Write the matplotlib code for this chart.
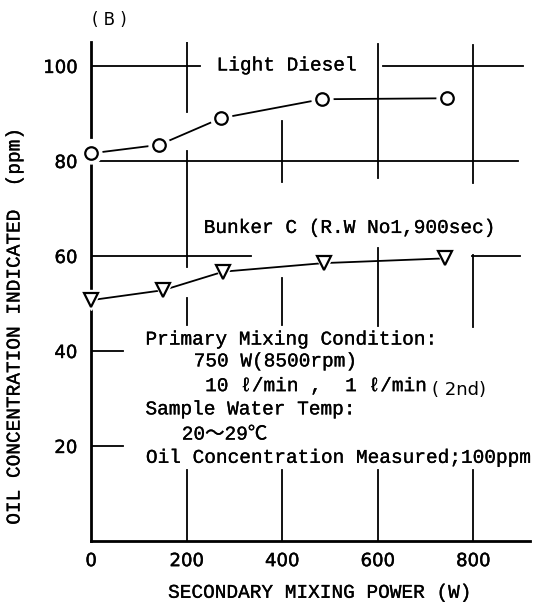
import matplotlib
matplotlib.use('Agg')
import matplotlib.pyplot as plt
import matplotlib.patheffects as pe

# secondary mixing power (W) and indicated oil concentration (ppm)
power_ld = [0, 143, 272, 483, 745]
light_diesel = [81.6, 83.4, 89.0, 93.0, 93.2]
power_bc = [0, 151, 277, 487, 742]
bunker_c = [50.7, 52.8, 56.7, 58.5, 59.5]

xticks = [0, 200, 400, 600, 800]
yticks = [20, 40, 60, 80, 100]

mono = ['Liberation Mono', 'DejaVu Sans Mono', 'Noto Sans CJK JP']
# typewriter lettering is a bit heavier than the plain font
heavy = [pe.withStroke(linewidth=0.2, foreground='k')]

fig = plt.figure(figsize=(5.46, 6.04), dpi=100)
ax = fig.add_axes([0.1667, 0.1043, 0.8046, 0.8258])
ax.set_xlim(0, 920)
ax.set_ylim(0, 105)
for s in ax.spines.values():
    s.set_visible(False)

# broken grid, drawn piece by piece
vgrid = {200: [(0, 14.9), (45.5, 51.1), (57.7, 82.2), (90.4, 105)],
         400: [(0, 14.9), (45.5, 55.3), (75.6, 88.5)],
         600: [(0, 14.9), (45.3, 61.6), (76.4, 104.6)],
         800: [(0, 14.9), (45.0, 60.2), (75.3, 104.4)]}
hgrid = {100: [(0, 228), (611, 905)],
         80: [(0, 894)],
         60: [(0, 334), (797, 898)],
         40: [(0, 68)],
         20: [(0, 68)]}
for x, segs in vgrid.items():
    for a, b in segs:
        ax.plot([x, x], [a, b], color='k', lw=1.3, zorder=1)
for y, segs in hgrid.items():
    for a, b in segs:
        ax.plot([a, b], [y, y], color='k', lw=1.3, zorder=1)

# axes lines
ax.plot([0, 920], [0, 0], color='k', lw=2.0, clip_on=False, zorder=2)
ax.plot([0, 0], [0, 80.2], color='k', lw=2.0, clip_on=False, zorder=2)
ax.plot([0, 0], [85.1, 105], color='k', lw=2.0, clip_on=False, zorder=2)

# curves with open markers, white halo leaves a gap round each marker
ax.plot(power_ld, light_diesel, color='k', lw=1.3, zorder=3)
ax.plot(power_ld, light_diesel, 'o', ms=15, mfc='w', mec='w', zorder=4, clip_on=False)
ax.plot(power_ld, light_diesel, 'o', ms=9, mfc='w', mec='k', mew=1.6, zorder=5, clip_on=False)

ax.plot(power_bc, bunker_c, color='k', lw=1.3, zorder=3)
ax.plot(power_bc, bunker_c, 'v', ms=15, mfc='w', mec='w', zorder=4, clip_on=False)
ax.plot(power_bc, bunker_c, 'v', ms=10, mfc='w', mec='k', mew=1.6, zorder=5, clip_on=False)

ax.set_xticks(xticks)
ax.set_yticks(yticks)
ax.set_xticklabels([str(v) for v in xticks])
ax.set_yticklabels([str(v) for v in yticks])
ax.tick_params(length=0, labelsize=13)
ax.tick_params(axis='y', pad=10)
ax.tick_params(axis='x', pad=8)
plt.setp(ax.get_xticklabels() + ax.get_yticklabels(), family='DejaVu Sans',
         path_effects=[pe.withStroke(linewidth=0.3, foreground='k')])

fs = 14
ax.text(263, 100, 'Light Diesel', family=mono, fontsize=fs, va='center', ha='left', path_effects=heavy)
ax.text(236, 65.8, 'Bunker C (R.W No1,900sec)', family=mono, fontsize=fs, va='center', ha='left', path_effects=heavy)
ax.text(114, 42.3, 'Primary Mixing Condition:', family=mono, fontsize=fs, va='center', path_effects=heavy)
ax.text(215, 37.7, '750 W(8500rpm)', family=mono, fontsize=fs, va='center', path_effects=heavy)
ax.text(239, 32.5, '10 \u2113/min ,  1 \u2113/min', family=mono, fontsize=fs, va='center', path_effects=heavy)
ax.text(714, 31.8, '( 2nd)', family='DejaVu Sans', fontsize=13, va='center')
ax.text(114, 27.6, 'Sample Water Temp:', family=mono, fontsize=fs, va='center', path_effects=heavy)
ax.text(190, 22.3, '20\uff5e29\u2103', family=mono, fontsize=fs, va='center', path_effects=heavy)
ax.text(115, 17.4, 'Oil Concentration Measured;100ppm', family=mono, fontsize=fs, va='center', path_effects=heavy)

fig.text(0.168, 0.967, '( B )', family='DejaVu Sans', fontsize=12, va='center', ha='left')
fig.text(0.5876, 0.0177, 'SECONDARY MIXING POWER (W)', family=mono, fontsize=fs,
         va='center', ha='center', path_effects=heavy)
fig.text(0.0275, 0.462, 'OIL CONCENTRATION INDICATED  (ppm)', family=mono, fontsize=fs,
         va='center', ha='center', rotation=90, path_effects=heavy)

fig.savefig('out.png', dpi=100)
